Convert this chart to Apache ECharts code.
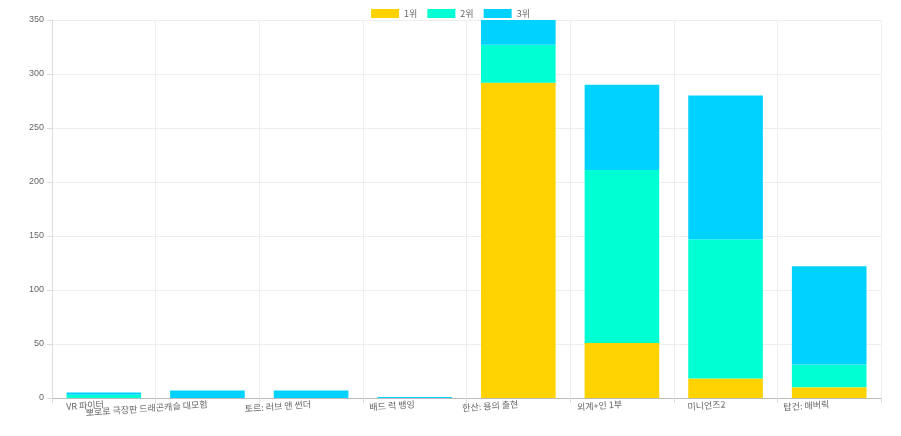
<!DOCTYPE html><html><head><meta charset="utf-8"><script src="https://cdn.jsdelivr.net/npm/echarts@6/dist/echarts.min.js"></script></head><body style="margin:0"><div id="c" style="width:901px;height:436px"></div><script>
const categories=["VR 파이터","뽀로로 극장판 드래곤캐슬 대모험","토르: 러브 앤 썬더","배드 럭 뱅잉","한산: 용의 출현","외계+인 1부","미니언즈2","탑건: 매버릭"];
const rank1=[0,0,0,0,292,51,18,10];
const rank2=[3,0,0,0,35,160,129,21];
const rank3=[2,7,7,1,23,79,133,91];
const names=["1위","2위","3위"];
const colors=["#FFD200","#00FFD2","#00D2FF"];
const c=echarts.init(document.getElementById('c'));
c.setOption({animation:false,
legend:{top:4,itemWidth:28,itemHeight:9,itemGap:10,itemStyle:{borderWidth:0},textStyle:{fontSize:9,color:'#666',fontFamily:'Noto Sans CJK KR'},icon:'rect'},
grid:{left:52,right:20,top:20,bottom:38},
xAxis:{type:'category',data:categories,axisTick:{show:true,length:5,lineStyle:{color:'#ddd'}},axisLine:{lineStyle:{color:'#bbb'}},splitLine:{show:true,lineStyle:{color:'#eee'}},
axisLabel:{interval:0,rotate:4,fontSize:9,color:'#666',fontFamily:'Noto Sans CJK KR',margin:6}},
yAxis:{type:'value',min:0,max:350,interval:50,axisLine:{show:true,lineStyle:{color:'#ddd'}},axisTick:{show:true,length:5,lineStyle:{color:'#ddd'}},splitLine:{lineStyle:{color:'#eee'}},axisLabel:{fontSize:9,color:'#666',margin:8}},
series:[rank1,rank2,rank3].map((d,i)=>({name:names[i],type:'bar',stack:'s',data:d,barWidth:'72%',itemStyle:{color:colors[i]}}))});
</script></body></html>
